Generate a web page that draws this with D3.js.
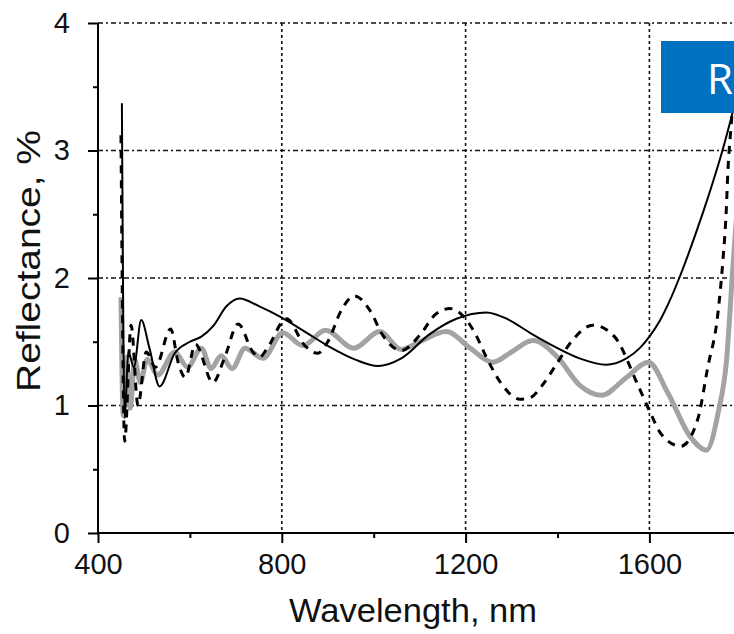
<!DOCTYPE html>
<html>
<head>
<meta charset="utf-8">
<script src="https://d3js.org/d3.v7.min.js"></script>
<style>
body { margin: 0; background: #fff; }
text { font-family: "Liberation Sans", Arial, sans-serif; }
</style>
</head>
<body>
<div id="main"></div>
<script>
var xTicks = [400, 800, 1200, 1600] ;
var xMinor = [600, 1000, 1400] ;
var yTicks = [0, 1, 2, 3, 4] ;
var yMinor = [0.5, 1.5, 2.5, 3.5] ;
var xGrid = [800, 1200, 1600] ;
var yGrid = [1, 2, 3, 4] ;

// solid black curve [wavelength nm, reflectance %]
var solid = [[452,3.37],[458,0.9],[466,1.42],[478,1.3],[494,1.67],[512,1.45],[534,1.15],[567,1.41],
  [600,1.5],[625,1.54],[650,1.62],[680,1.78],[708,1.84],[750,1.78],[800,1.69],[850,1.58],[904,1.46],
  [960,1.36],[1009,1.31],[1060,1.37],[1122,1.56],[1180,1.68],[1245,1.73],[1290,1.68],[1340,1.57],
  [1400,1.45],[1448,1.37],[1506,1.32],[1550,1.37],[1579,1.45],[1600,1.54],[1622,1.66],[1644,1.82],
  [1665,2.0],[1700,2.34],[1730,2.66],[1759,3.0],[1781,3.3],[1795,3.52]] ;

// dashed black curve
var dashed = [[450,3.12],[458,0.72],[472,1.63],[487,1.0],[505,1.42],[525,1.3],[558,1.6],[575,1.33],
  [590,1.22],[612,1.48],[650,1.18],[676,1.38],[705,1.64],[737,1.42],[752,1.38],[770,1.46],[810,1.68],
  [850,1.47],[878,1.41],[900,1.5],[930,1.75],[958,1.86],[991,1.75],[1020,1.55],[1060,1.43],[1100,1.55],
  [1136,1.72],[1166,1.76],[1195,1.7],[1220,1.57],[1245,1.38],[1278,1.17],[1318,1.05],[1340,1.06],
  [1365,1.15],[1397,1.32],[1430,1.5],[1477,1.63],[1524,1.54],[1575,1.16],[1600,0.96],[1625,0.78],
  [1668,0.68],[1705,0.89],[1727,1.3],[1749,1.72],[1760,2.14],[1767,2.51],[1771,2.85],[1778,3.2],[1786,3.6]] ;

// thick grey curve
var grey = [[450,1.85],[455,0.92],[462,1.38],[470,0.98],[480,1.36],[492,1.18],[507,1.36],[530,1.24],
  [567,1.42],[595,1.3],[625,1.45],[646,1.29],[668,1.39],[692,1.29],[720,1.45],[759,1.37],[802,1.57],
  [846,1.47],[895,1.59],[957,1.45],[1013,1.58],[1060,1.44],[1100,1.5],[1158,1.58],[1210,1.45],
  [1259,1.34],[1300,1.42],[1346,1.51],[1400,1.38],[1448,1.16],[1496,1.08],[1550,1.22],[1598,1.34],
  [1640,1.1],[1690,0.75],[1724,0.65],[1750,0.95],[1768,1.36],[1781,2.05],[1792,2.6]] ;

var width = 734, height = 634 ;

var svg = d3.select("#main")
  .append("svg")
  .attr("width", width)
  .attr("height", height) ;

var x = d3.scaleLinear().domain([400, 1800]).range([98, 98 + 1400 * 0.4595]) ;
var y = d3.scaleLinear().domain([0, 4]).range([533, 23]) ;

// grid
svg.selectAll(".hgrid").data(yGrid).enter()
  .append("line")
  .attr("x1", x(400)).attr("x2", width)
  .attr("y1", function(d) { return y(d) ; })
  .attr("y2", function(d) { return y(d) ; })
  .attr("stroke", "#111").attr("stroke-width", 1.6)
  .attr("stroke-dasharray", "5,3,2,3") ;

svg.selectAll(".vgrid").data(xGrid).enter()
  .append("line")
  .attr("y1", y(4)).attr("y2", y(0))
  .attr("x1", function(d) { return x(d) ; })
  .attr("x2", function(d) { return x(d) ; })
  .attr("stroke", "#111").attr("stroke-width", 1.6)
  .attr("stroke-dasharray", "3,3") ;

// curves
var line = d3.line()
  .x(function(d) { return x(d[0]) ; })
  .y(function(d) { return y(d[1]) ; })
  .curve(d3.curveMonotoneX) ;

svg.append("path").datum(grey)
  .attr("d", line).attr("fill", "none")
  .attr("stroke", "#a3a3a3").attr("stroke-width", 5) ;

svg.append("path").datum(dashed)
  .attr("d", line).attr("fill", "none")
  .attr("stroke", "#000").attr("stroke-width", 3)
  .attr("stroke-dasharray", "8,7") ;

svg.append("path").datum(solid)
  .attr("d", line).attr("fill", "none")
  .attr("stroke", "#000").attr("stroke-width", 2) ;

// axes
var gx = svg.append("g").attr("transform", "translate(0," + y(0) + ")") ;
gx.call(d3.axisBottom(x).tickValues(xTicks).tickSize(10).tickPadding(10).tickFormat(d3.format("d"))) ;
gx.append("g").call(d3.axisBottom(x).tickValues(xMinor).tickSize(5).tickFormat("")) ;

var gy = svg.append("g").attr("transform", "translate(" + x(400) + ",0)") ;
gy.call(d3.axisLeft(y).tickValues(yTicks).tickSize(10).tickPadding(18).tickFormat(d3.format("d"))) ;
gy.append("g").call(d3.axisLeft(y).tickValues(yMinor).tickSize(5).tickFormat("")) ;

svg.selectAll(".domain").attr("stroke", "#000").attr("stroke-width", 2) ;
gx.selectAll(".domain").attr("d", "M" + x(400) + ",0H" + (width + 5)) ;
gy.selectAll(".domain").attr("d", "M0," + y(0) + "V" + y(4)) ;
svg.selectAll(".tick line").attr("stroke", "#000").attr("stroke-width", 2) ;
svg.selectAll(".tick text")
  .attr("font-size", 29)
  .attr("fill", "#111")
  .style("font-family", "'Liberation Sans', Arial, sans-serif") ;

// axis titles
svg.append("text")
  .attr("x", 413).attr("y", 622)
  .attr("text-anchor", "middle")
  .attr("font-size", 34)
  .attr("fill", "#111")
  .attr("textLength", 248)
  .attr("lengthAdjust", "spacingAndGlyphs")
  .text("Wavelength, nm") ;

svg.append("text")
  .attr("transform", "translate(40,261) rotate(-90)")
  .attr("text-anchor", "middle")
  .attr("font-size", 34)
  .attr("fill", "#111")
  .attr("textLength", 262)
  .attr("lengthAdjust", "spacingAndGlyphs")
  .text("Reflectance, %") ;

// blue label box
svg.append("rect")
  .attr("x", 661).attr("y", 41)
  .attr("width", 80).attr("height", 72)
  .attr("fill", "#0070c0") ;

svg.append("text")
  .attr("x", 707).attr("y", 94)
  .attr("font-size", 42)
  .attr("fill", "#fff")
  .style("font-family", "'Open Sans', sans-serif")
  .text("R") ;
</script>
</body>
</html>
